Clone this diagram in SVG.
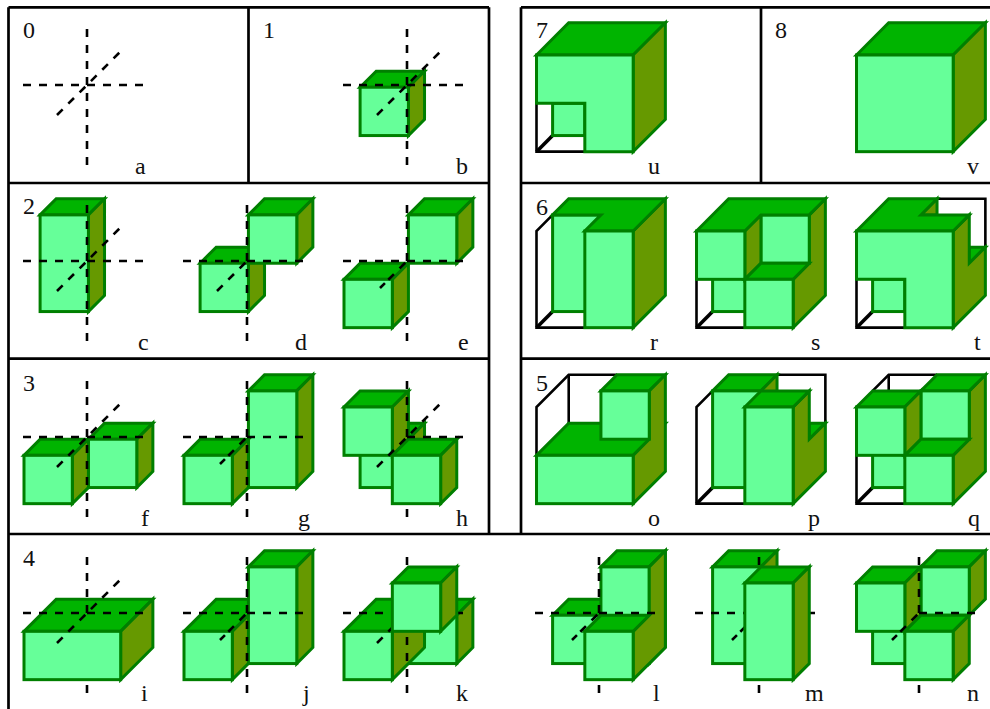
<svg xmlns="http://www.w3.org/2000/svg" width="990" height="709" viewBox="0 0 990 709">
<style>
.f{fill:#66ff99;stroke:#007f00;stroke-width:3;stroke-linejoin:miter}
.t{fill:#00b400;stroke:#007f00;stroke-width:3;stroke-linejoin:miter}
.s{fill:#669900;stroke:#007f00;stroke-width:3;stroke-linejoin:miter}
.w{fill:none;stroke:#000;stroke-width:2.6}
.b{fill:none;stroke:#000;stroke-width:3.6}
.a{stroke:#000;stroke-width:2.6;fill:none;stroke-dasharray:8 8}
.p{stroke:#000;stroke-width:2.7;fill:none}
text{font-family:"Liberation Serif","DejaVu Serif",serif;font-size:24px;fill:#111}
</style>
<defs>
<g id="c"><polygon class="t" points="0,0 16.1,-16.1 64.43,-16.1 48.33,0"/><polygon class="s" points="48.33,0 64.43,-16.1 64.43,32.23 48.33,48.33"/><rect class="f" width="48.33" height="48.33"/></g>
<g id="tall"><polygon class="t" points="0,0 16.1,-16.1 64.43,-16.1 48.33,0"/><polygon class="s" points="48.33,0 64.43,-16.1 64.43,80.57 48.33,96.67"/><rect class="f" width="48.33" height="96.67"/></g>
<g id="deep"><polygon class="t" points="0,0 32.2,-32.2 80.53,-32.2 48.33,0"/><polygon class="s" points="48.33,0 80.53,-32.2 80.53,16.13 48.33,48.33"/><rect class="f" width="48.33" height="48.33"/></g>
<g id="wide"><polygon class="t" points="0,0 32.2,-32.2 128.87,-32.2 96.67,0"/><polygon class="s" points="96.67,0 128.87,-32.2 128.87,16.13 96.67,48.33"/><rect class="f" width="96.67" height="48.33"/></g>
<g id="big"><polygon class="t" points="0,0 32.2,-32.2 128.87,-32.2 96.67,0"/><polygon class="s" points="96.67,0 128.87,-32.2 128.87,64.47 96.67,96.67"/></g>
<line id="vt" class="a" x1="0" y1="-56" x2="0" y2="0"/>
<line id="vb" class="a" x1="0" y1="0" x2="0" y2="80" stroke-dashoffset="8"/>
<line id="hl" class="a" x1="-64" y1="0" x2="0" y2="0"/>
<line id="hr" class="a" x1="0" y1="0" x2="57" y2="0"/>
<line id="df" class="a" x1="-30" y1="30" x2="0" y2="0"/>
<line id="df2" class="a" x1="-27" y1="27" x2="0" y2="0" style="stroke-dasharray:7 4.7 8 8 8 8"/>
<line id="db" class="a" x1="0" y1="0" x2="32.5" y2="-32.5" stroke-dashoffset="10.43"/>
<g id="axes"><use href="#vt"/><use href="#vb"/><use href="#hl"/><use href="#hr"/><use href="#df"/><use href="#db"/></g>
<g id="axes3"><use href="#vt"/><use href="#vb"/><use href="#hl"/><use href="#hr"/></g>
</defs>
<g id="panel-lines">
<path class="p" d="M8.5 7.3H489M8.5 7.3V709M248.5 7.3V183M489 7.3V534M8.5 183H489M8.5 358.7H489M8.5 534H990"/>
<path class="p" d="M521 7.3H990M521 7.3V534M761 7.3V183M521 183H990M521 358.7H990"/>
</g>
<g id="a"><use href="#axes" x="87" y="85"/><text x="23" y="38">0</text><text x="135" y="174">a</text></g>
<g id="b"><use href="#c" x="360.1" y="87.23"/><use href="#axes" x="407" y="85"/><text x="263" y="38">1</text><text x="456" y="174">b</text></g>
<g id="c1"><use href="#tall" x="40.1" y="214.9"/><use href="#axes" x="87" y="261"/><text x="23" y="214">2</text><text x="138" y="350">c</text></g>
<g id="d"><use href="#db" x="247" y="261"/><use href="#c" x="200.1" y="263.23"/><use href="#c" x="248.43" y="214.9"/><use href="#axes3" x="247" y="261"/><use href="#df" x="247" y="261"/><text x="295" y="350">d</text></g>
<g id="e"><use href="#db" x="407" y="261"/><use href="#vb" x="407" y="261"/><use href="#c" x="408.43" y="214.9"/><use href="#c" x="344" y="279.33"/><use href="#vt" x="407" y="261"/><use href="#hl" x="407" y="261"/><use href="#hr" x="407" y="261"/><use href="#df2" x="407" y="261"/><text x="458" y="350">e</text></g>
<g id="f"><use href="#c" x="88.43" y="439.23"/><use href="#c" x="24" y="455.33"/><use href="#axes" x="87" y="437"/><text x="23" y="390.5">3</text><text x="141" y="526">f</text></g>
<g id="g"><use href="#db" x="247" y="437"/><use href="#tall" x="248.43" y="390.9"/><use href="#c" x="184" y="455.33"/><use href="#axes3" x="247" y="437"/><use href="#df2" x="247" y="437"/><text x="298" y="526">g</text></g>
<g id="h"><use href="#c" x="360.1" y="439.23"/><use href="#hl" x="407" y="437"/><use href="#vb" x="407" y="437"/><use href="#c" x="344" y="407"/><use href="#c" x="392.33" y="455.33"/><use href="#vt" x="407" y="437"/><use href="#hr" x="407" y="437"/><use href="#db" x="407" y="437"/><use href="#df" x="407" y="437"/><text x="456" y="526">h</text></g>
<g id="i"><use href="#vb" x="87" y="613"/><use href="#wide" x="24" y="631.33"/><use href="#vt" x="87" y="613"/><use href="#hl" x="87" y="613"/><use href="#hr" x="87" y="613"/><use href="#df" x="87" y="613"/><use href="#db" x="87" y="613"/><text x="23" y="566">4</text><text x="141" y="701">i</text></g>
<g id="j"><use href="#db" x="247" y="613"/><use href="#deep" x="184" y="631.33"/><use href="#tall" x="248.43" y="566.9"/><use href="#axes3" x="247" y="613"/><use href="#df2" x="247" y="613"/><text x="303" y="701">j</text></g>
<g id="k"><use href="#c" x="408.43" y="615.23"/><use href="#deep" x="344" y="631.33"/><use href="#axes" x="407" y="613"/><use href="#c" x="392.33" y="583"/><text x="456" y="701">k</text></g>
<g id="l"><use href="#vb" x="599" y="613"/><use href="#db" x="599" y="613"/><use href="#c" x="552.6" y="615.23"/><use href="#tall" x="600.93" y="566.9"/><polygon class="s" points="649.26,566.9 665.36,550.8 665.36,647.47 633.16,679.66 633.16,631.33 649.26,615.23"/><polygon class="t" points="584.83,631.33 600.93,615.23 649.26,615.23 633.16,631.33"/><rect class="f" x="584.83" y="631.33" width="48.33" height="48.33"/><use href="#vt" x="599" y="613"/><use href="#hl" x="599" y="613"/><use href="#hr" x="599" y="613"/><use href="#df2" x="599" y="613"/><text x="653" y="701">l</text></g>
<g id="m"><use href="#tall" x="712.6" y="566.9"/><use href="#axes3" x="759" y="613"/><use href="#df2" x="759" y="613"/><use href="#db" x="759" y="613"/><use href="#tall" x="744.83" y="583"/><text x="805" y="701">m</text></g>
<g id="n"><use href="#c" x="872.6" y="615.23"/><use href="#hl" x="919" y="613"/><use href="#vb" x="919" y="613"/><use href="#db" x="919" y="613"/><use href="#c" x="920.93" y="566.9"/><use href="#c" x="856.5" y="583"/><use href="#c" x="904.83" y="631.33"/><use href="#vt" x="919" y="613"/><use href="#hr" x="919" y="613"/><use href="#df2" x="919" y="613"/><text x="967" y="701">n</text></g>
<g id="u"><polyline class="w" points="536.5,103.33 536.5,151.67 584.83,151.67"/><line class="b" x1="536.5" y1="151.67" x2="552.6" y2="135.57"/><rect class="f" x="552.6" y="103.33" width="32.23" height="32.23"/><use href="#big" x="536.5" y="55"/><polygon class="f" points="536.5,55 633.17,55 633.17,151.67 584.83,151.67 584.83,103.33 536.5,103.33"/><text x="536" y="38">7</text><text x="648" y="174">u</text></g>
<g id="v"><use href="#big" x="856.5" y="55"/><rect class="f" x="856.5" y="55" width="96.67" height="96.67"/><text x="775" y="38">8</text><text x="967" y="174">v</text></g>
<g id="r"><polyline class="w" points="552.6,214.9 536.5,231 536.5,327.67 584.83,327.67"/><line class="b" x1="536.5" y1="327.67" x2="552.6" y2="311.57"/><polygon class="s" points="633.17,231 665.37,198.8 665.37,295.47 633.17,327.67"/><rect class="f" x="552.6" y="214.9" width="48.33" height="96.67"/><polygon class="t" points="552.6,214.9 568.7,198.8 665.37,198.8 633.17,231 584.83,231 600.93,214.9"/><rect class="f" x="584.83" y="231" width="48.33" height="96.67"/><text x="536" y="215">6</text><text x="650" y="350">r</text></g>
<g id="s1"><polyline class="w" points="696.5,279.33 696.5,327.67 744.83,327.67"/><line class="b" x1="696.5" y1="327.67" x2="712.6" y2="311.57"/><rect class="f" x="712.6" y="263.23" width="48.33" height="48.33"/><polygon class="s" points="793.17,279.33 809.27,263.23 809.27,214.9 825.37,198.8 825.37,295.47 793.17,327.67"/><rect class="f" x="760.93" y="214.9" width="48.33" height="48.33"/><polygon class="s" points="744.83,231 760.93,214.9 760.93,263.23 744.83,279.33"/><polygon class="t" points="696.5,231 728.7,198.8 825.37,198.8 809.27,214.9 760.93,214.9 744.83,231"/><rect class="f" x="696.5" y="231" width="48.33" height="48.33"/><polygon class="t" points="744.83,279.33 760.93,263.23 809.27,263.23 793.17,279.33"/><rect class="f" x="744.83" y="279.33" width="48.33" height="48.33"/><text x="811" y="350">s</text></g>
<g id="t1"><polyline class="w" points="937.03,198.8 985.37,198.8 985.37,247.13"/><polyline class="w" points="856.5,279.33 856.5,327.67 904.83,327.67"/><line class="b" x1="856.5" y1="327.67" x2="872.6" y2="311.57"/><rect class="f" x="872.6" y="279.33" width="32.23" height="32.23"/><polygon class="s" points="920.93,214.9 937.03,198.8 937.03,214.9"/><polygon class="t" points="969.27,247.13 985.37,247.13 969.27,263.23"/><polygon class="s" points="953.17,231 969.27,214.9 969.27,263.23 985.37,247.13 985.37,295.47 953.17,327.67"/><polygon class="t" points="856.5,231 888.7,198.8 937.03,198.8 920.93,214.9 969.27,214.9 953.17,231"/><polygon class="f" points="856.5,231 953.17,231 953.17,327.67 904.83,327.67 904.83,279.33 856.5,279.33"/><text x="974" y="350">t</text></g>
<g id="o"><polyline class="w" points="536.5,455.33 536.5,407 568.7,374.8 617.03,374.8"/><line class="w" x1="568.7" y1="374.8" x2="568.7" y2="423.13"/><polygon class="t" points="536.5,455.33 568.7,423.13 665.37,423.13 633.17,455.33"/><polygon class="t" points="600.93,390.9 617.03,374.8 665.37,374.8 649.27,390.9"/><polygon class="s" points="649.27,390.9 665.37,374.8 665.37,471.47 633.17,503.67 633.17,455.33 649.27,439.23"/><rect class="f" x="600.93" y="390.9" width="48.33" height="48.33"/><rect class="f" x="536.5" y="455.33" width="96.67" height="48.33"/><text x="536" y="390.5">5</text><text x="648" y="526">o</text></g>
<g id="p1"><polyline class="w" points="712.6,390.9 696.5,407 696.5,503.67 744.83,503.67"/><line class="b" x1="696.5" y1="503.67" x2="712.6" y2="487.57"/><polyline class="w" points="777.03,374.8 825.37,374.8 825.37,423.13"/><use href="#tall" x="712.6" y="390.9"/><polygon class="t" points="809.27,423.13 825.37,423.13 809.27,439.23"/><polygon class="s" points="793.17,407 809.27,390.9 809.27,439.23 825.37,423.13 825.37,471.47 793.17,503.67"/><polygon class="t" points="744.83,407 760.93,390.9 809.27,390.9 793.17,407"/><rect class="f" x="744.83" y="407" width="48.33" height="96.67"/><text x="808" y="526">p</text></g>
<g id="q"><polyline class="w" points="872.6,390.9 888.7,374.8 937.03,374.8"/><line class="w" x1="888.7" y1="374.8" x2="888.7" y2="392"/><polyline class="w" points="856.5,455.33 856.5,503.67 904.83,503.67"/><line class="b" x1="856.5" y1="503.67" x2="872.6" y2="487.57"/><rect class="f" x="872.6" y="439.23" width="48.33" height="48.33"/><polygon class="s" points="969.27,390.9 985.37,374.8 985.37,471.47 953.17,503.67 953.17,455.33 969.27,439.23"/><polygon class="t" points="920.93,390.9 937.03,374.8 985.37,374.8 969.27,390.9"/><rect class="f" x="920.93" y="390.9" width="48.33" height="48.33"/><use href="#c" x="856.5" y="407"/><polygon class="t" points="904.83,455.33 920.93,439.23 969.27,439.23 953.17,455.33"/><rect class="f" x="904.83" y="455.33" width="48.33" height="48.33"/><text x="968" y="526">q</text></g>
</svg>
